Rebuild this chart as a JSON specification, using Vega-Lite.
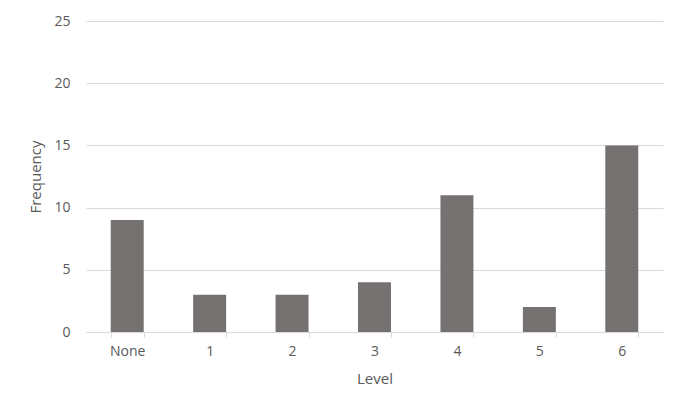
{
  "$schema": "https://vega.github.io/schema/vega-lite/v6.json",
  "width": 577,
  "height": 311,
  "autosize": {"type": "none"},
  "padding": {"left": 86, "top": 21, "right": 22, "bottom": 85},
  "background": "white",
  "data": {"values": [
    {"level": "None", "frequency": 9},
    {"level": "1", "frequency": 3},
    {"level": "2", "frequency": 3},
    {"level": "3", "frequency": 4},
    {"level": "4", "frequency": 11},
    {"level": "5", "frequency": 2},
    {"level": "6", "frequency": 15}
  ]},
  "mark": {"type": "bar", "color": "#767171"},
  "encoding": {
    "x": {
      "field": "level", "type": "nominal", "sort": null, "title": "Level",
      "scale": {"paddingInner": 0.6, "paddingOuter": 0.3},
      "axis": {
        "labelAngle": 0, "domainColor": "#d9d9d9", "tickColor": "#d9d9d9",
        "tickBand": "extent", "tickSize": 5, "labelPadding": 7,
        "labelFont": "Open Sans", "labelFontSize": 14, "labelColor": "#595959",
        "titleFont": "Open Sans", "titleFontSize": 15, "titleFontWeight": "normal",
        "titleColor": "#595959", "titlePadding": 13
      }
    },
    "y": {
      "field": "frequency", "type": "quantitative", "title": "Frequency",
      "scale": {"domain": [0, 25]},
      "axis": {
        "values": [0, 5, 10, 15, 20, 25], "domain": false, "ticks": false,
        "gridColor": "#d9d9d9", "labelPadding": 16,
        "labelFont": "Open Sans", "labelFontSize": 14, "labelColor": "#595959",
        "titleFont": "Open Sans", "titleFontSize": 15, "titleFontWeight": "normal",
        "titleColor": "#595959", "titlePadding": 10
      }
    }
  },
  "config": {"view": {"stroke": null}}
}
